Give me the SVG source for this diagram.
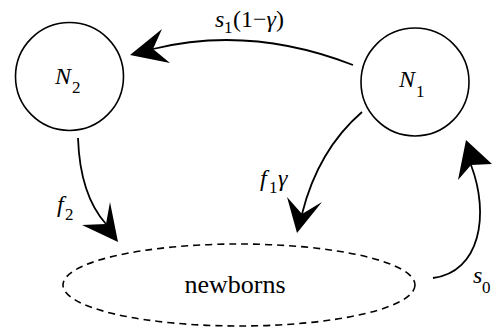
<svg xmlns="http://www.w3.org/2000/svg" width="493" height="333" viewBox="0 0 493 333">
<style>
.node{fill:none;stroke:#000;stroke-width:1.6}
.dash{fill:none;stroke:#000;stroke-width:1.6;stroke-dasharray:7 5}
.edge{fill:none;stroke:#000;stroke-width:1.8}
.head{fill:#000;stroke:none}
.t{font-family:"Liberation Serif","DejaVu Serif","Times New Roman",Times,serif;fill:#000}
.i{font-style:italic}
.m{font-size:24px}
.s{font-size:17px}
</style>
<rect width="493" height="333" fill="#fff"/>
<g id="N2">
<circle class="node" cx="69.5" cy="76.5" r="54"/>
<text class="t m i" x="55" y="84">N</text><text class="t s" x="72" y="93">2</text>
</g>
<g id="N1">
<circle class="node" cx="415" cy="82" r="54"/>
<text class="t m i" x="399" y="87">N</text><text class="t s" x="416" y="97">1</text>
</g>
<g id="newborns">
<ellipse class="dash" cx="239" cy="285" rx="176" ry="41"/>
<text class="t" font-size="26" x="235" y="293" text-anchor="middle">newborns</text>
</g>
<g id="connectors">
<path class="edge" d="M353,65 Q250,25 153,49"/>
<path class="head" d="M130,55 L162,29 L153,49 L170,63 Z"/>
<path class="edge" d="M78,138 Q80,195 106,224"/>
<path class="head" d="M118,242 L82,225 L106,224 L110,202 Z"/>
<path class="edge" d="M362,112 Q318,150 302,214"/>
<path class="head" d="M297,233 L287,197 L302,214 L322,202 Z"/>
<path class="edge" d="M433,278 C480,272 490,215 471,165"/>
<path class="head" d="M466,140 L492,164 L471,165 L458,180 Z"/>
<text class="t m i" x="215" y="27">s</text><text class="t s" x="224" y="33">1</text><text class="t m" x="233" y="27">(1−<tspan class="i">γ</tspan>)</text>
<text class="t m i" x="57" y="212">f</text><text class="t s" x="65" y="220">2</text>
<text class="t m i" x="260" y="186">f</text><text class="t s" x="269" y="193">1</text><text class="t m i" x="278" y="186">γ</text>
<text class="t m i" x="473" y="283">s</text><text class="t s" x="482" y="293">0</text>
</g>
</svg>
